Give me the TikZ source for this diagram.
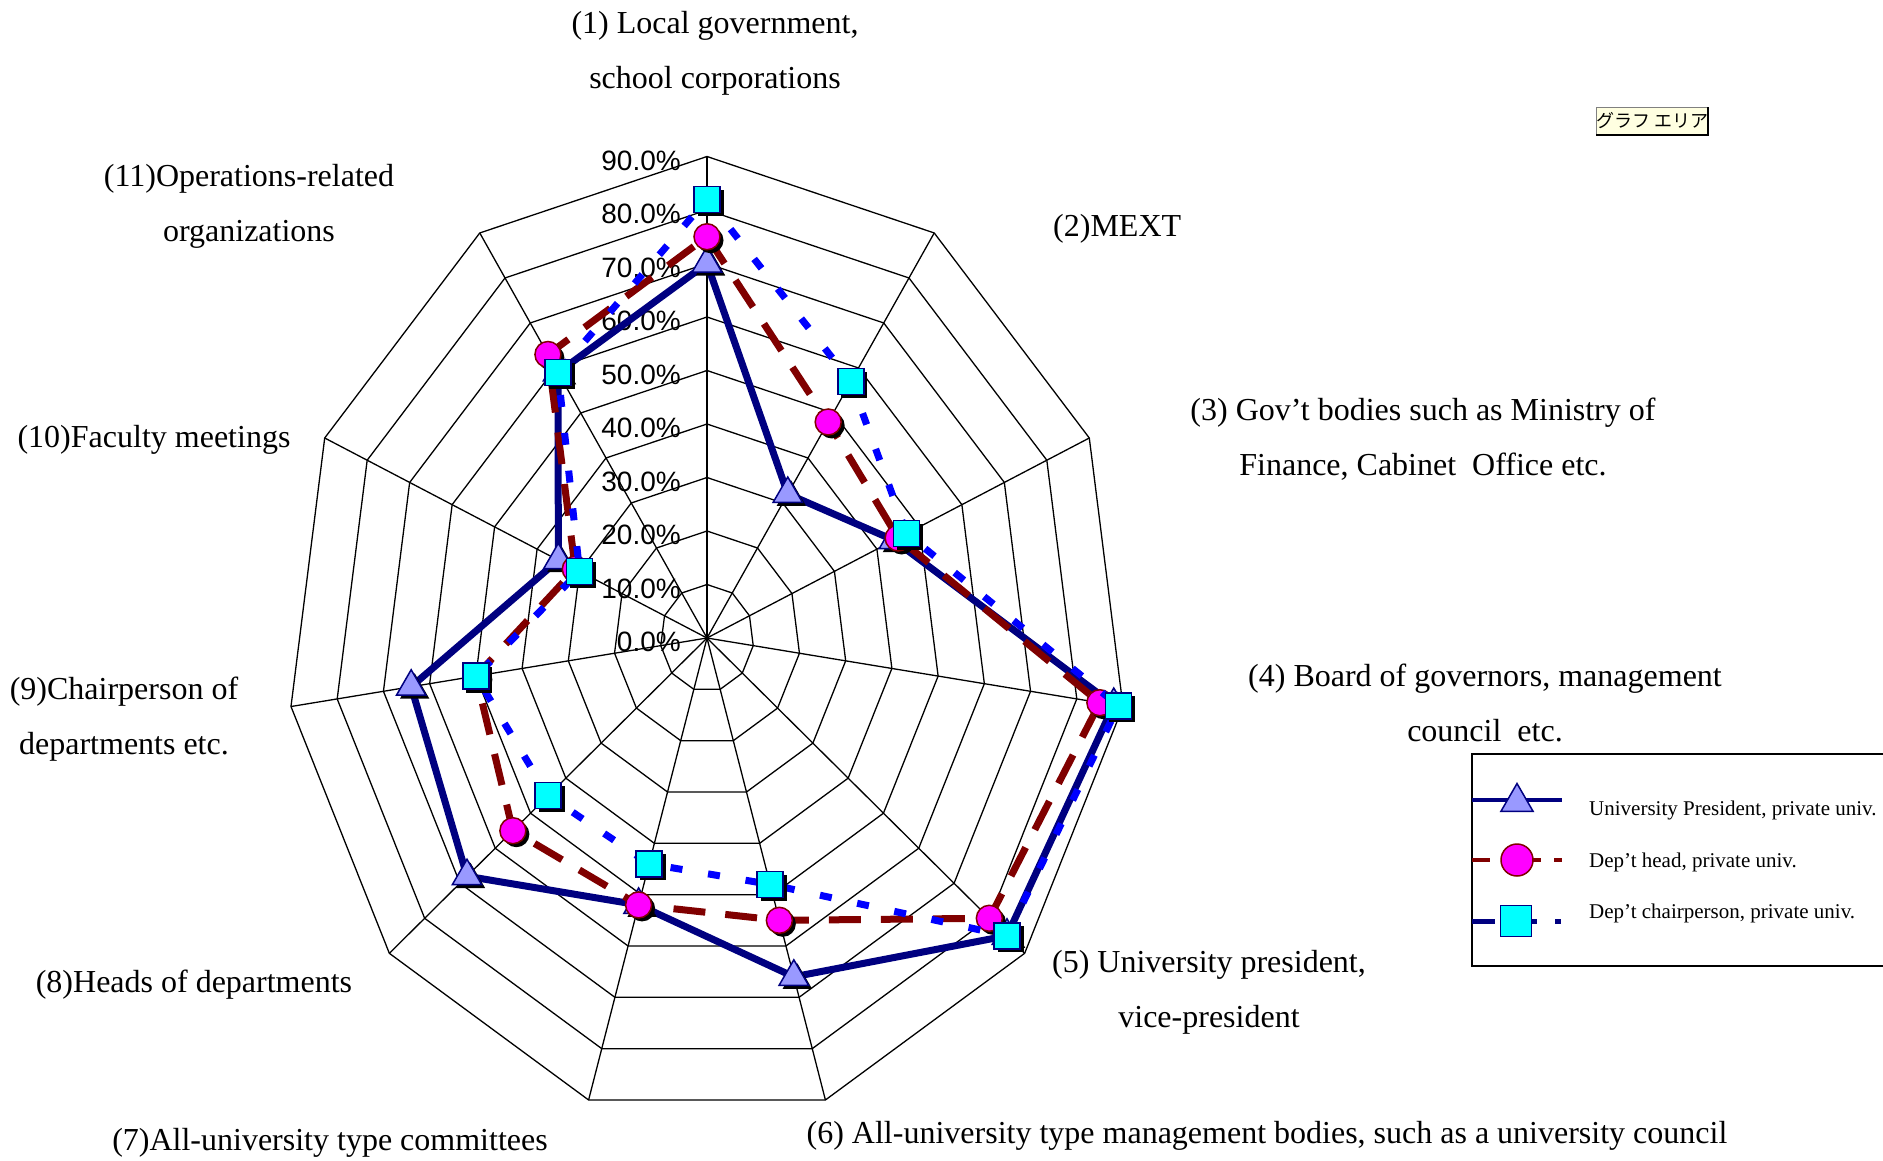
\documentclass[tikz,border=0pt]{standalone}
\usepackage{fontspec}
\setmainfont{Liberation Serif}
\newfontfamily\lsans{Liberation Sans}
\newfontfamily\jpfont{Noto Sans CJK JP}
\usetikzlibrary{shapes.geometric,shadows}
\definecolor{navy}{HTML}{000080}
\definecolor{dred}{HTML}{800000}
\definecolor{peri}{HTML}{9999FF}
\definecolor{mag}{HTML}{FF00FF}
\definecolor{cyn}{HTML}{00FFFF}
\definecolor{tipbg}{HTML}{FFFFE1}
\begin{document}
\begin{tikzpicture}[x=1pt,y=-1pt,
  gridline/.style={draw=black,line width=1.3pt},
  lineA/.style={draw=navy,line width=7pt,line join=miter},
  lineB/.style={draw=dred,line width=7pt,dash pattern=on 32pt off 20pt},
  lineC/.style={draw=blue,line width=7pt,dash pattern=on 12pt off 26pt},
  mshadow/.style={drop shadow={shadow xshift=3.5pt,shadow yshift=-3.5pt,opacity=1,fill=black}},
  triA/.style={regular polygon,regular polygon sides=3,minimum size=34pt,inner sep=0pt,fill=peri,draw=navy,line width=1.5pt},
  circB/.style={circle,minimum size=26pt,inner sep=0pt,fill=mag,draw=dred,line width=1.5pt},
  sqC/.style={rectangle,minimum size=26pt,inner sep=0pt,fill=cyn,draw=navy,line width=1.5pt},
  pct/.style={font=\lsans\fontsize{28}{28}\selectfont,anchor=east,inner sep=0pt},
  lab/.style={font=\fontsize{32}{55}\selectfont,align=center,inner sep=0pt},
  legtxt/.style={font=\fontsize{21}{21}\selectfont,anchor=west,inner sep=0pt},
  tip/.style={draw=gray,fill=tipbg,minimum width=106pt,minimum height=27pt,inner sep=0pt,font=\jpfont\fontsize{18}{18}\selectfont}
]
\useasboundingbox (0,0) rectangle (1883,1160);
\fill[white] (0,0) rectangle (1883,1160);
% grid
\coordinate (c) at (707,638);
\foreach \k in {0,...,10}{
  \foreach \r in {1,...,9}{
    \coordinate (g\k-\r) at ({707+46.7*\r*cos(90-\k*360/11)},{638-53.5*\r*sin(90-\k*360/11)});
  }
}
\foreach \r in {1,...,9}{
  \draw[gridline] (g0-\r) \foreach \k in {1,...,10}{ -- (g\k-\r) } -- cycle;
}
\foreach \k in {0,...,10}{ \draw[gridline] (c) -- (g\k-9); }
% percent labels
\foreach \r/\t in {0/0.0,1/10.0,2/20.0,3/30.0,4/40.0,5/50.0,6/60.0,7/70.0,8/80.0,9/90.0}{
  \node[pct] (p\r) at (681,{642-53.5*\r}) {\t\%};
}
% data
\foreach \v [count=\k from 0] in {70,32,44,88,85,66,52,68,64,35,59}{
  \coordinate (A\k) at ({707+4.67*\v*cos(90-\k*360/11)},{638-5.35*\v*sin(90-\k*360/11)});
}
\foreach \v [count=\k from 0] in {75,48,45,85,80,55,52,55,50,31,63}{
  \coordinate (B\k) at ({707+4.67*\v*cos(90-\k*360/11)},{638-5.35*\v*sin(90-\k*360/11)});
}
\foreach \v [count=\k from 0] in {82,57,47,89,85,48,44,45,50,30,59}{
  \coordinate (C\k) at ({707+4.67*\v*cos(90-\k*360/11)},{638-5.35*\v*sin(90-\k*360/11)});
}
\draw[lineA] (A0) \foreach \k in {1,...,10}{ -- (A\k) } -- cycle;
\foreach \k in {0,...,10}{ \node[triA,mshadow] (mA\k) at (A\k) {}; }
\draw[lineB] (B0) \foreach \k in {1,...,10}{ -- (B\k) } -- cycle;
\foreach \k in {0,...,10}{ \node[circB,mshadow] (mB\k) at (B\k) {}; }
\draw[lineC] (C0) \foreach \k in {1,...,10}{ -- (C\k) } -- cycle;
\foreach \k in {0,...,10}{ \node[sqC,mshadow] (mC\k) at (C\k) {}; }
% category labels
\node[lab] (l1) at (715,53) {(1) Local government,\\school corporations};
\node[lab,anchor=west] (l2) at (1053,229) {(2)MEXT};
\node[lab] (l3) at (1423,439) {(3) Gov’t bodies such as Ministry of\\Finance, Cabinet~ Office etc.};
\node[lab] (l4) at (1485,703) {(4) Board of governors, management\\council~ etc.};
\node[lab] (l5) at (1209,992) {(5) University president,\\vice-president};
\node[lab] (l6) at (1267,1136) {(6) All-university type management bodies, such as a university council};
\node[lab] (l7) at (330,1143) {(7)All-university type committees};
\node[lab] (l8) at (194,985) {(8)Heads of departments};
\node[lab] (l9) at (124,719) {(9)Chairperson of\\departments etc.};
\node[lab] (l10) at (154,440) {(10)Faculty meetings};
\node[lab] (l11) at (249,206) {(11)Operations-related\\organizations};
% legend
\draw[line width=2.5pt] (1472,754) rectangle (1900,966);
\coordinate (kA1) at (1472,800); \coordinate (kA2) at (1562,800);
\coordinate (kB1) at (1472,860); \coordinate (kB2) at (1562,860);
\coordinate (kC1) at (1472,921); \coordinate (kC2) at (1562,921);
\draw[navy,line width=4pt] (kA1) -- (kA2);
\node[triA,minimum size=37pt] (legA) at (1517,802) {};
\draw[dred,line width=4pt,dash pattern=on 18pt off 42pt on 9pt off 13pt on 8pt off 100pt] (kB1) -- (kB2);
\node[circB,minimum size=32pt] (legB) at (1517,860) {};
\draw[navy,line width=5pt,dash pattern=on 23pt off 37pt on 5pt off 18pt on 6pt off 100pt] (kC1) -- (kC2);
\node[sqC,minimum size=31pt] (legC) at (1516,921) {};
\node[legtxt] (tA) at (1589,810) {University President, private univ.};
\node[legtxt] (tB) at (1589,862) {Dep’t head, private univ.};
\node[legtxt] (tC) at (1589,913) {Dep’t chairperson, private univ.};
% tooltip
\node[tip] (tipbox) at (1652,121) {グラフ エリア};
\draw[black,line width=2pt] (tipbox.north east) -- (tipbox.south east) -- (tipbox.south west);
\end{tikzpicture}
\end{document}
